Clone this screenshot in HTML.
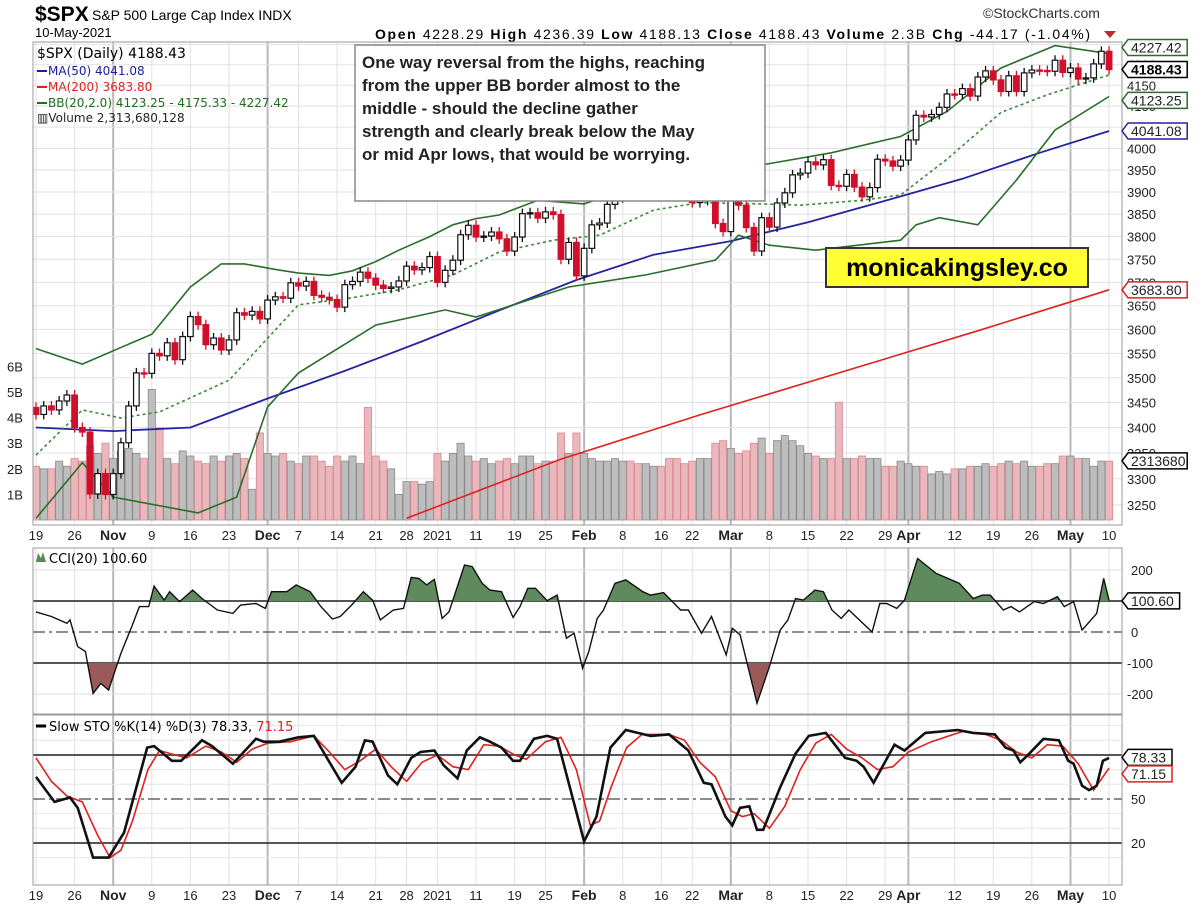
<!DOCTYPE html>
<html><head><meta charset="utf-8"><style>
body{margin:0;background:#fff;}
svg{display:block;font-family:"Liberation Sans",sans-serif;}
</style></head><body>
<svg id="c" width="1200" height="908" viewBox="0 0 1200 908" xmlns="http://www.w3.org/2000/svg">
<defs>
<clipPath id="cm"><rect x="33" y="42" width="1089" height="483"/></clipPath>
<clipPath id="cc"><rect x="33" y="548" width="1089" height="166"/></clipPath>
<clipPath id="cs"><rect x="33" y="715" width="1089" height="170"/></clipPath>
</defs>
<g>
<text x="35" y="21" font-size="21" font-weight="bold" fill="#000">$SPX</text>
<text x="92" y="20" font-size="14" fill="#000">S&amp;P 500 Large Cap Index  INDX</text>
<text x="35" y="37" font-size="13" fill="#000">10-May-2021</text>
<text x="375" y="39" font-size="14" fill="#000" textLength="715" lengthAdjust="spacing"><tspan font-weight="bold">Open</tspan> 4228.29 <tspan font-weight="bold">High</tspan> 4236.39 <tspan font-weight="bold">Low</tspan> 4188.13 <tspan font-weight="bold">Close</tspan> 4188.43 <tspan font-weight="bold">Volume</tspan> 2.3B <tspan font-weight="bold">Chg</tspan> -44.17 (-1.04%)</text>
<polygon points="1104,31 1116,31 1110,38" fill="#c0282d"/>
<text x="983" y="18" font-size="14" fill="#333">©StockCharts.com</text>
</g>
<g id="grid"></g>
<g id="vol" clip-path="url(#cm)"></g>
<g id="lines" clip-path="url(#cm)"></g>
<g id="candles" clip-path="url(#cm)"></g>
<g id="cci" clip-path="url(#cc)"></g>
<g id="sto" clip-path="url(#cs)"></g>
<g id="axes"></g>
<g font-family="'DejaVu Sans', sans-serif">
<text x="37" y="58" font-size="14" fill="#000">$SPX (Daily) 4188.43</text>
<line x1="37" y1="71" x2="47" y2="71" stroke="#1c1ca0" stroke-width="2"/>
<text x="48" y="75" font-size="12" fill="#1c1ca0">MA(50) 4041.08</text>
<line x1="37" y1="87" x2="47" y2="87" stroke="#e02020" stroke-width="2"/>
<text x="48" y="91" font-size="12" fill="#e02020">MA(200) 3683.80</text>
<line x1="37" y1="103" x2="47" y2="103" stroke="#1e6e1e" stroke-width="2"/>
<text x="48" y="107" font-size="12" fill="#1e6e1e">BB(20,2.0) 4123.25 - 4175.33 - 4227.42</text>
<text x="37" y="122" font-size="12" fill="#222">▥Volume 2,313,680,128</text>
</g>
<g>
<rect x="355" y="45" width="410" height="156" fill="#fff" stroke="#888" stroke-width="1.5"/>
<text font-size="17" fill="#222" font-weight="bold">
<tspan x="362" y="68">One way reversal from the highs, reaching</tspan>
<tspan x="362" y="91">from the upper BB border almost to the</tspan>
<tspan x="362" y="114">middle - should the decline gather</tspan>
<tspan x="362" y="137">strength and clearly break below the May</tspan>
<tspan x="362" y="160">or mid Apr lows, that would be worrying.</tspan>
</text>
</g>
<g>
<rect x="826" y="248" width="262" height="39" fill="#ffff33" stroke="#333" stroke-width="2"/>
<text x="957" y="276" font-size="25" font-weight="bold" text-anchor="middle" fill="#000">monicakingsley.co</text>
</g>
<g font-family="'DejaVu Sans', sans-serif">
<polygon points="36,562 38,553 41,558 43,552 46,562" fill="#5a8a5a"/>
<text x="49" y="563" font-size="13" fill="#000">CCI(20) 100.60</text>
</g>
<g font-family="'DejaVu Sans', sans-serif">
<line x1="36" y1="726" x2="46" y2="726" stroke="#000" stroke-width="3"/>
<text x="49" y="731" font-size="13" fill="#000">Slow STO %K(14) %D(3) 78.33, <tspan fill="#e02020">71.15</tspan></text>
</g>
</svg>
<script>
const closes=[3426,3443,3435,3453,3465,3400,3391,3271,3310,3270,
3310,3370,3443,3510,3509,3550,3545,3572,3537,3585,3627,3610,3568,3582,3557,3578,3635,3630,3638,3622,
3662,3669,3666,3699,3692,3702,3672,3668,3663,3647,3695,3702,3722,3709,3694,3687,3690,3703,3735,3727,3732,3756,
3700,3726,3748,3804,3825,3799,3801,3810,3795,3768,3799,3851,3853,3841,3855,3849,3750,3787,3714,
3774,3826,3830,3872,3887,3916,3911,3910,3916,3934,3932,3931,3913,3907,3876,3881,3925,3829,3811,
3901,3870,3820,3768,3842,3821,3875,3898,3939,3943,3969,3962,3974,3915,3913,3940,3911,3889,3910,3975,3971,3959,3973,
4020,4078,4074,4080,4097,4129,4128,4142,4124,4170,4185,4163,4135,4173,4135,4180,4187,4186,4184,4211,4181,
4192,4165,4168,4202,4233,4188];
const firstOpen=3440;
const volumes=[2.1,2.0,2.0,2.3,2.1,2.4,2.3,2.9,2.6,3.0,
2.4,2.7,2.8,2.6,2.4,5.1,3.6,2.4,2.2,2.7,2.5,2.3,2.2,2.5,2.3,2.5,2.6,2.4,1.2,3.4,
2.6,2.5,2.6,2.3,2.2,2.5,2.5,2.3,2.1,2.5,2.3,2.5,2.2,4.4,2.5,2.3,2.0,1.0,1.5,1.5,1.4,1.5,
2.6,2.3,2.6,3.0,2.5,2.3,2.4,2.2,2.3,2.4,2.2,2.5,2.5,2.2,2.3,2.3,3.4,2.6,3.4,
2.6,2.4,2.3,2.3,2.4,2.3,2.3,2.2,2.2,2.1,2.1,2.4,2.4,2.2,2.3,2.4,2.4,3.0,3.1,
2.8,2.6,2.7,3.0,3.2,2.6,3.1,3.3,3.1,2.9,2.6,2.5,2.4,2.4,4.6,2.4,2.4,2.5,2.4,2.4,2.1,2.1,2.3,
2.2,2.1,2.1,1.8,1.9,1.8,2.0,2.0,2.1,2.1,2.2,2.1,2.2,2.3,2.2,2.3,2.1,2.1,2.2,2.2,2.5,
2.5,2.4,2.4,2.1,2.3,2.3];
const ma50Idx=[0,10,20,30,40,50,60,70,80,90,100,110,120,130,139];
const ma50Val=[3400,3393,3400,3458,3514,3575,3640,3705,3760,3790,3832,3880,3930,3990,4041];
const ma200Idx=[48,68,86,104,122,139];
const ma200Val=[3225,3338,3425,3510,3597,3684];
const bbUpIdx=[0,6,15,20,24,27,31,34,38,41,44,47,51,54,57,60,65,71,78,81,86,95,103,112,118,125,132,139];
const bbUpVal=[3560,3528,3590,3690,3740,3740,3728,3720,3715,3725,3745,3770,3800,3826,3840,3848,3881,3873,3915,3939,3935,3965,3990,4028,4087,4192,4247,4227];
const bbMidIdx=[0,6,11,16,25,31,34,41,47,54,60,67,73,80,86,94,99,107,112,118,125,131,139];
const bbMidVal=[3346,3435,3419,3431,3495,3599,3652,3667,3684,3716,3766,3792,3803,3859,3876,3873,3870,3881,3893,3975,4085,4127,4175];
const bbLowIdx=[0,6,10,21,26,30,34,44,53,57,69,79,88,91,95,101,112,114,117,122,127,132,139];
const bbLowVal=[3225,3331,3265,3235,3265,3441,3510,3609,3641,3626,3690,3716,3748,3803,3781,3770,3792,3826,3842,3826,3927,4043,4123];
const cciIdx=[0,2,4,4.4,5.4,6.4,7.4,8.4,9.4,11,12.4,13.4,14.6,15.3,16.6,17.3,18.6,20.3,21.5,23.5,25.5,26.5,28.5,29.7,30.5,32.5,33.7,35.5,36.9,38.4,39.4,40.9,42.4,43.6,44.6,46.3,47.6,48.6,49.6,50.6,51.6,52.6,53.5,55.5,56.5,57.8,58.8,60.3,61.8,62.7,63.7,64.7,66.2,67.5,68.7,69.7,70.8,71.6,72.7,73.5,75,76.4,78.6,79.6,81.3,83.5,84.5,86.2,87.5,89.4,90.2,91.2,93.4,95,96.4,97.4,98.4,99.4,100.9,102,103.1,104.3,105.3,108.3,109.3,110.2,111.5,112.5,114.2,116.6,119.6,121.4,122.6,123.6,125.3,126.3,127.4,129.3,130.5,132.3,133.2,134.4,135.5,137.4,138.3,139];
const cciVal=[65,50,28,39,-47,-63,-198,-166,-187,-69,17,82,82,148,103,130,98,135,108,71,60,87,92,76,130,130,152,130,82,42,50,87,130,103,39,71,76,176,173,152,170,44,65,216,211,157,135,130,47,82,141,141,101,119,-20,-4,-117,-63,44,70,157,168,130,119,127,71,71,-4,50,-74,12,-9,-230,-112,6,39,108,103,135,130,71,44,71,0,92,92,76,103,237,189,157,108,119,119,71,82,65,98,92,114,82,98,6,60,173,101];
const kIdx=[0,2.4,4.4,5.4,7.4,9.4,11.4,12.8,14.4,15.3,17.6,18.8,21.5,22.8,25.5,28.5,29.5,31.5,34,36,39.6,41.4,42.6,43.6,45.6,46.8,48.6,49.8,51.6,52.8,54.6,55.8,57.5,58.8,60.3,61.8,62.7,64.5,66.2,67.5,71,72.6,74.4,76.4,79.6,82,84.5,86.5,87.5,89.3,90.2,91.2,92.4,93.4,94.2,96.4,98.4,100.1,102.3,104.8,106.3,107.2,108.5,111.2,112.5,115.2,119.4,121.4,124.2,125.6,126.6,127.5,128.5,130.5,132.5,133.7,134.4,135.5,136.4,137.4,138.2,139];
const kVal=[65,48,51,44,10,10,27,54,85,86,76,76,90,86,74,91,89,89,92,93,61,72,90,89,66,60,78,82,83,73,64,83,92,89,85,76,76,91,93,91,21,38,85,97,93,94,83,61,60,38,32,44,45,29,29,58,81,93,95,78,76,72,61,87,83,95,97,95,94,85,83,75,80,91,90,76,74,59,56,59,76,78];
const dIdx=[0,2,4,6,8,9.6,11,12.5,14.5,16,18,19.5,22,24,26,28,30,33,36,38,40,42,44,46,48,50,52,54,56,58,60,62,63.5,66,68,70,71.8,73,74.5,76.5,78.5,82,84,86,88,90,91.5,93,95,97,99,101,103,105,107,109,111,113,116,120,123,125,127,129,131,133,135,137,139];
const dVal=[78,62,52,48,25,10,15,35,70,83,80,78,86,82,75,84,88,89,93,82,70,76,84,72,62,75,80,72,70,87,86,80,77,89,92,70,32,35,58,85,94,94,90,75,65,42,38,40,30,45,70,88,94,84,78,70,72,82,89,96,94,90,82,78,87,86,74,56,71];
const xTickIdx=[0,5,10,15,20,25,30,34,39,44,48,52,57,62,66,71,76,81,85,90,95,100,105,110,113,119,124,129,134,139];
const xTickLab=['19','26','Nov','9','16','23','Dec','7','14','21','28','2021','11','19','25','Feb','8','16','22','Mar','8','15','22','29','Apr','12','19','26','May','10'];
const priceTicks=[3250,3300,3350,3400,3450,3500,3550,3600,3650,3700,3750,3800,3850,3900,3950,4000,4050,4100,4150,4200,4250];
const volTicks=[1,2,3,4,5,6];
const cciTicks=[200,100,0,-100,-200];
const stoTicks=[80,50,20];

const NS='http://www.w3.org/2000/svg';
const X=i=>36+7.72*i;
const Y=p=>505-1717*Math.log(p/3250);
const VY=v=>520-25.6*v;
const CY=v=>632-0.31*v;
const SY=v=>872.3-1.467*v;
function mk(tag,attrs,parent){const e=document.createElementNS(NS,tag);for(const k in attrs)e.setAttribute(k,attrs[k]);parent.appendChild(e);return e;}
const G=id=>document.getElementById(id);
const grid=G('grid'),axes=G('axes');
[[42,525],[548,714],[715,885]].forEach(([t,b])=>{
  const r=mk('rect',{x:33,y:t,width:1089,height:b-t,fill:'none',stroke:'#999','stroke-width':1},axes);
  
  
});
xTickIdx.forEach((ix,k)=>{
  const month=isNaN(+xTickLab[k]);
  [[42,525],[548,714],[715,885]].forEach(([t,b])=>{
    const l=mk('line',{x1:X(ix),x2:X(ix),y1:t,y2:b,stroke:month?'#b8b8b8':'#e2e2e2','stroke-width':month?2:1},grid);
    
    
  });
  [540,900].forEach(yy=>{
    const t=mk('text',{x:X(ix),y:yy,'font-size':month?14:13,'font-weight':month?'bold':'normal','text-anchor':'middle',fill:'#222'},axes);
    t.textContent=xTickLab[k];
    
    
  });
});
priceTicks.forEach(p=>{
  const l=mk('line',{x1:33,x2:1122,y1:Y(p),y2:Y(p),stroke:'#e2e2e2'},grid);
  
  
  const t=mk('text',{x:1127,y:Y(p)+5,'font-size':13,fill:'#222'},axes);
  t.textContent=p;
  
  
});
volTicks.forEach(v=>{
  const t=mk('text',{x:7,y:VY(v)+5,'font-size':13,fill:'#222'},axes);
  t.textContent=v+'B';
  
  
});
closes.forEach((c,i)=>{
  const prev=i?closes[i-1]:firstOpen;const down=c<prev;
  const r=mk('rect',{x:X(i)-3.6,y:VY(volumes[i]),width:7.2,height:520-VY(volumes[i]),fill:down?'#eab8bc':'#bdbdbd',stroke:down?'#d88890':'#8a8a8a','stroke-width':0.8},G('vol'));
  
  
});
function knotPath(idx,val,yf){return idx.map((ix,k)=>(k?'L':'M')+X(ix).toFixed(1)+','+yf(val[k]).toFixed(1)).join(' ');}
const L=G('lines');
let p;
p=mk('path',{d:knotPath(ma200Idx,ma200Val,Y),fill:'none',stroke:'#e02020','stroke-width':1.6},L);

p=mk('path',{d:knotPath(ma50Idx,ma50Val,Y),fill:'none',stroke:'#2424a0','stroke-width':1.8},L);

p=mk('path',{d:knotPath(bbUpIdx,bbUpVal,Y),fill:'none',stroke:'#2a6e2a','stroke-width':1.6},L);

p=mk('path',{d:knotPath(bbLowIdx,bbLowVal,Y),fill:'none',stroke:'#2a6e2a','stroke-width':1.6},L);

p=mk('path',{d:knotPath(bbMidIdx,bbMidVal,Y),fill:'none',stroke:'#3a8a3a','stroke-width':1.6,'stroke-dasharray':'3,3'},L);

closes.forEach((c,i)=>{
  const o=i?closes[i-1]:firstOpen;const down=c<o;
  const top=Y(Math.max(o,c)),bot=Y(Math.min(o,c));const x=X(i);
  const col=down?'#d0102a':'#111';
  const w=mk('line',{x1:x,x2:x,y1:top-5,y2:bot+5,stroke:col,'stroke-width':1.3},G('candles'));
  
  
  const r=mk('rect',{x:x-2.8,y:top,width:5.6,height:Math.max(1.2,bot-top),fill:down?col:'#fff',stroke:col,'stroke-width':1.2},G('candles'));
  
  
});
const C=G('cci');
[100,-100].forEach(v=>{const l=mk('line',{x1:33,x2:1122,y1:CY(v),y2:CY(v),stroke:'#555','stroke-width':2},C);});
[200,-200].forEach(v=>{const l=mk('line',{x1:33,x2:1122,y1:CY(v),y2:CY(v),stroke:'#e2e2e2'},grid);});
let l0=mk('line',{x1:33,x2:1122,y1:CY(0),y2:CY(0),stroke:'#666','stroke-width':1.5,'stroke-dasharray':'12,4,3,4'},C);

const cciD=knotPath(cciIdx,cciVal,CY);
const areaD=cciD+' L'+X(cciIdx[cciIdx.length-1])+','+CY(0)+' L'+X(cciIdx[0])+','+CY(0)+' Z';
const cup=mk('clipPath',{id:'cup'},C);
mk('rect',{x:0,y:540,width:1200,height:CY(100)-540},cup);
const cdn=mk('clipPath',{id:'cdn'},C);
mk('rect',{x:0,y:CY(-100),width:1200,height:100},cdn);
p=mk('path',{d:areaD,fill:'#5e8a5e','clip-path':'url(#cup)'},C);

p=mk('path',{d:areaD,fill:'#9a5a5a','clip-path':'url(#cdn)'},C);

p=mk('path',{d:cciD,fill:'none',stroke:'#111','stroke-width':1.4},C);

cciTicks.forEach(v=>{if(v===100)return;const t=mk('text',{x:v<0?1127:1131,y:CY(v)+5,'font-size':13,fill:'#222'},axes);t.textContent=v;});
const S=G('sto');
[80,20].forEach(v=>{const l=mk('line',{x1:33,x2:1122,y1:SY(v),y2:SY(v),stroke:'#555','stroke-width':2},S);});
[10,30,40,60,70,90,100].forEach(v=>{const l=mk('line',{x1:33,x2:1122,y1:SY(v),y2:SY(v),stroke:'#e6e6e6'},grid);});
l0=mk('line',{x1:33,x2:1122,y1:SY(50),y2:SY(50),stroke:'#666','stroke-width':1.5,'stroke-dasharray':'12,4,3,4'},S);

p=mk('path',{d:knotPath(dIdx,dVal,SY),fill:'none',stroke:'#e02020','stroke-width':1.6},S);

p=mk('path',{d:knotPath(kIdx,kVal,SY),fill:'none',stroke:'#111','stroke-width':2.6},S);

stoTicks.forEach(v=>{if(v===80)return;const t=mk('text',{x:1131,y:SY(v)+5,'font-size':13,fill:'#222'},axes);t.textContent=v;});
function tag(y,txt,col,bold,name){
  const g=mk('g',{},axes);
  
  
  const w=txt.length*7.6+6;
  mk('path',{d:`M1122,${y} L1128,${y-8} L${1128+w},${y-8} L${1128+w},${y+8} L1128,${y+8} Z`,fill:'#fff',stroke:col,'stroke-width':1.5},g);
  const t=mk('text',{x:1131,y:y+5,'font-size':14,fill:bold?'#000':'#222','font-weight':bold?'bold':'normal'},g);
  t.textContent=txt;
}
tag(Y(4227.42)-6,'4227.42','#2a6e2a',false,'bb-upper-tag');
tag(Y(4188.43),'4188.43','#000',true,'close-tag');
tag(Y(4123.25)+4,'4123.25','#2a6e2a',false,'bb-lower-tag');
tag(Y(4041.08),'4041.08','#2424a0',false,'ma50-tag');
tag(Y(3683.8),'3683.80','#e02020',false,'ma200-tag');
tag(VY(2.31),'2313680','#000',false,'volume-tag');
tag(CY(100.6),'100.60','#000',false,'cci-tag');
tag(SY(78.33),'78.33','#000',false,'sto-k-tag');
tag(SY(71.15)+6,'71.15','#e02020',false,'sto-d-tag');
</script>
</body></html>
